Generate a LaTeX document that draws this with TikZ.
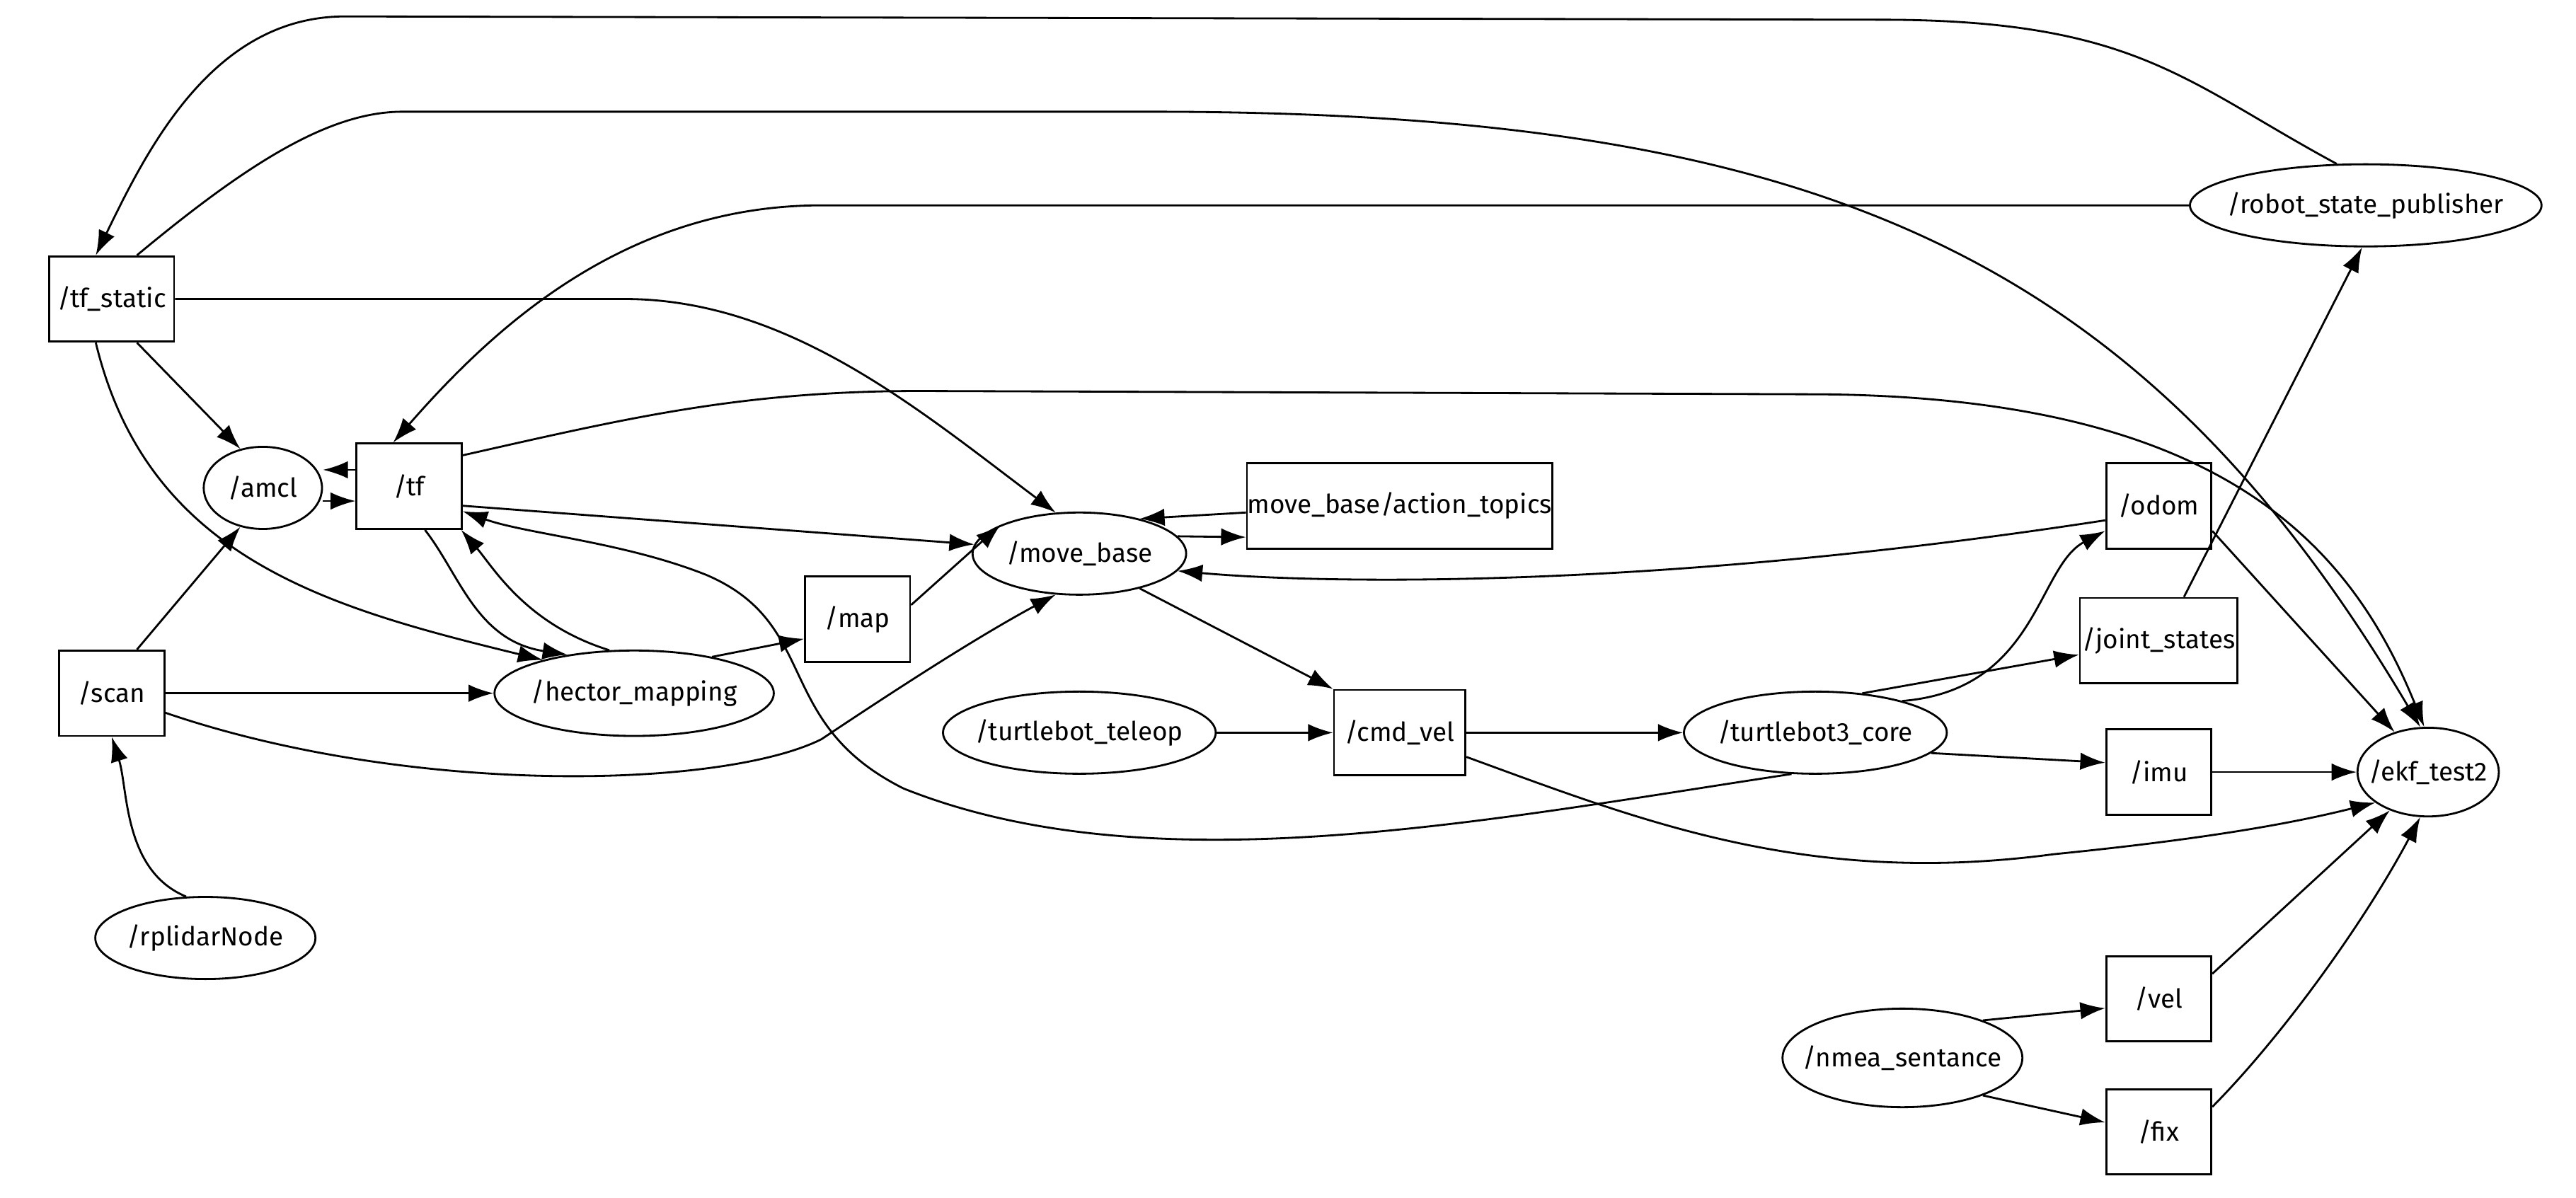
\documentclass[tikz,border=0pt]{standalone}
\usepackage{fontspec}
\setmainfont{Fira Sans}
\usetikzlibrary{arrows.meta,shapes.geometric}
\begin{document}
\begin{tikzpicture}[x=0.02321cm,y=-0.02321cm,
  every node/.style={font=\fontsize{10.5}{12}\selectfont, inner sep=0pt},
  box/.style 2 args={draw, thick, minimum width=#1*0.02321cm, minimum height=#2*0.02321cm},
  ell/.style 2 args={draw, thick, ellipse, inner xsep=-14pt, minimum width=#1*0.02321cm, minimum height=#2*0.02321cm},
  edge/.style={-{Latex[length=10pt,width=7pt]}, thick}]
\useasboundingbox (0,0) rectangle (1568,729);
% nodes
\node[box={76}{52}] (tfs) at (68,182) {/tf\_static};
\node[ell={72}{50}] (amcl) at (160,297) {/amcl};
\node[box={64}{52}] (tf) at (249,296) {/tf};
\node[box={64}{52}] (scan) at (68,422) {/scan};
\node[ell={134}{50}] (rplidar) at (125,571) {/rplidarNode};
\node[ell={170}{52}] (hector) at (386,422) {/hector\_mapping};
\node[box={64}{52}] (map) at (522,377) {/map};
\node[ell={130}{50}] (mb) at (657,337) {/move\_base};
\node[box={186}{52}] (act) at (852,308) {move\_base/action\_topics};
\node[ell={166}{50}] (teleop) at (657,446) {/turtlebot\_teleop};
\node[box={80}{52}] (cmd) at (852,446) {/cmd\_vel};
\node[ell={160}{50}] (core) at (1105,446) {/turtlebot3\_core};
\node[box={64}{52}] (odom) at (1314,308) {/odom};
\node[box={96}{52}] (js) at (1314,390) {/joint\_states};
\node[box={64}{52}] (imu) at (1314,470) {/imu};
\node[box={64}{52}] (vel) at (1314,608) {/vel};
\node[box={64}{52}] (fix) at (1314,689) {/fix};
\node[ell={146}{60}] (nmea) at (1158,644) {/nmea\_sentance};
\node[ell={86}{54}] (ekf) at (1478,470) {/ekf\_test2};
\node[ell={214}{50}] (rsp) at (1440,125) {/robot\_state\_publisher};
% edges
\draw[edge] (rsp.125) .. controls (1330,50) and (1300,12) .. (1145,12) -- (210,10) .. controls (130,10) and (90,90) .. (tfs.110);
\draw[edge] (tfs.60) .. controls (150,100) and (200,68) .. (245,68) -- (700,68) .. controls (1100,68) and (1300,150) .. (ekf.100);
\draw[edge] (rsp.west) -- (500,125) .. controls (380,125) and (300,200) .. (tf.110);
\draw[edge] (tfs.east) -- (380,182) .. controls (480,182) and (560,250) .. (mb.120);
\draw[edge] (tfs.-60) -- (amcl.120);
\draw[edge] (tfs.-110) .. controls (90,340) and (200,370) .. (hector.160);
\draw[edge] (tf.west|-286,286) -- (amcl.east|-286,286);
\draw[edge] (amcl.east|-305,305) -- (tf.west|-305,305);
\draw[edge] (tf.-20) -- (mb.175);
\draw[edge] (tf.30) .. controls (380,255) and (450,238) .. (560,238) -- (1100,240) .. controls (1350,240) and (1430,330) .. (ekf.95);
\draw[edge] (tf.-70) .. controls (280,350) and (290,390) .. (hector.150);
\draw[edge] (hector.120) .. controls (320,380) and (300,345) .. (tf.-40);
\draw[edge] (scan.60) -- (amcl.-120);
\draw[edge] (scan.east|-422,422) -- (hector.west);
\draw[edge] (scan.-20) .. controls (250,485) and (440,480) .. (500,450) .. controls (560,410) and (600,385) .. (mb.-120);
\draw[edge] (rplidar.115) .. controls (75,530) and (78,480) .. (scan.south);
\draw[edge] (hector.25) -- (map.-160);
\draw[edge] (map.15) -- (mb.160);
\draw[edge] (act.west|-312,312) -- (mb.30);
\draw[edge] (mb.10) -- (act.west|-327,327);
\draw[edge] (odom.-165) .. controls (1000,360) and (800,355) .. (mb.-10);
\draw[edge] (mb.-30) -- (cmd.north west);
\draw[edge] (teleop.east) -- (cmd.west);
\draw[edge] (cmd.east) -- (core.west);
\draw[edge] (cmd.-20) .. controls (1000,500) and (1100,540) .. (1250,520) .. controls (1350,510) and (1400,500) .. (ekf.-150);
\draw[edge] (core.-120) .. controls (900,500) and (700,540) .. (550,480) .. controls (470,440) and (500,380) .. (430,350) .. controls (380,330) and (320,325) .. (tf.-25);
\draw[edge] (core.20) .. controls (1240,420) and (1240,345) .. (odom.-155);
\draw[edge] (core.40) -- (js.-170);
\draw[edge] (core.-10) -- (imu.170);
\draw[edge] (js.60) -- (rsp.-95);
\draw[edge] (odom.-25) -- (ekf.130);
\draw[edge] (imu.east) -- (ekf.west);
\draw[edge] (vel.25) -- (ekf.-135);
\draw[edge] (fix.25) .. controls (1390,630) and (1440,560) .. (ekf.-100);
\draw[edge] (nmea.25) -- (vel.-170);
\draw[edge] (nmea.-25) -- (fix.170);
\end{tikzpicture}
\end{document}
